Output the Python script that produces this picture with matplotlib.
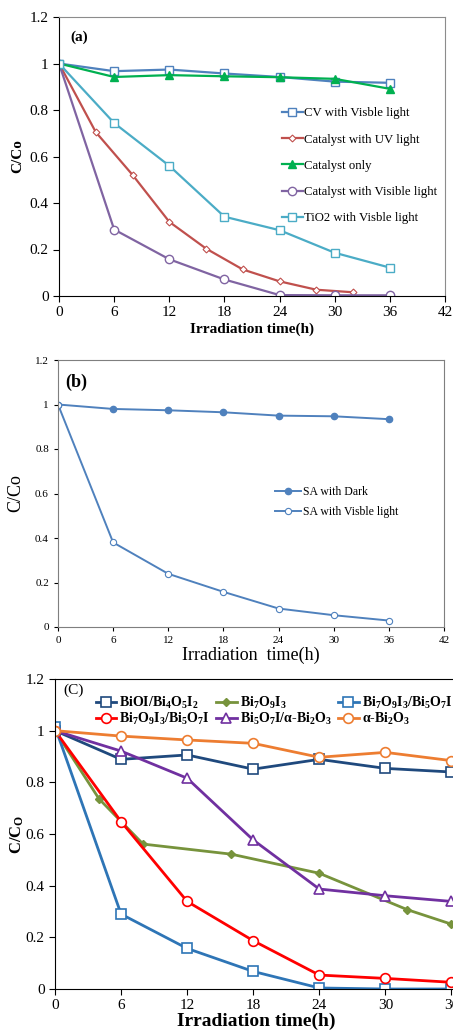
import matplotlib
matplotlib.use("Agg")
import matplotlib.pyplot as plt
from matplotlib.ticker import FuncFormatter

plt.rcParams['font.family'] = ['Liberation Serif', 'DejaVu Serif']
plt.rcParams['mathtext.fontset'] = 'custom'
plt.rcParams['mathtext.rm'] = 'Liberation Serif:bold'
plt.rcParams['mathtext.it'] = 'Liberation Serif:bold'
plt.rcParams['mathtext.bf'] = 'Liberation Serif:bold'

# --- panel (a) data ---
t_a = [0, 6, 12, 18, 24, 30, 36]
t_uv = [0, 4, 8, 12, 16, 20, 24, 28, 32]
cv_vis = [1.0, 0.967, 0.974, 0.957, 0.942, 0.922, 0.917]
cat_uv = [1.0, 0.705, 0.521, 0.319, 0.204, 0.114, 0.063, 0.027, 0.016]
cat_only = [1.0, 0.942, 0.950, 0.945, 0.941, 0.934, 0.891]
cat_vis = [1.0, 0.286, 0.158, 0.071, 0.004, 0.003, 0.003]
tio2_vis = [1.0, 0.744, 0.560, 0.341, 0.283, 0.186, 0.122]

# --- panel (b) data ---
t_b = [0, 6, 12, 18, 24, 30, 36]
sa_dark = [1.0, 0.980, 0.974, 0.965, 0.950, 0.947, 0.934]
sa_vis = [1.0, 0.380, 0.239, 0.158, 0.083, 0.053, 0.029]

# --- panel (c) data ---
t_c = [0, 6, 12, 18, 24, 30, 36]
t_green = [0, 4, 8, 16, 24, 32, 36]
bioi = [1.0, 0.889, 0.906, 0.851, 0.889, 0.854, 0.840]
bi7o9i3 = [1.0, 0.736, 0.561, 0.522, 0.448, 0.307, 0.251]
blue_comp = [1.015, 0.290, 0.157, 0.068, 0.004, 0.0, 0.0]
red_comp = [1.0, 0.648, 0.339, 0.187, 0.054, 0.041, 0.026]
bi5o7i = [1.0, 0.921, 0.816, 0.577, 0.387, 0.361, 0.339]
abi2o3 = [1.0, 0.979, 0.964, 0.951, 0.897, 0.916, 0.884]

W, H = 453, 1031
fig = plt.figure(figsize=(W / 100, H / 100), dpi=100)


def box(l, t, r, b):
    return [l / W, 1 - b / H, (r - l) / W, (b - t) / H]


fmt = FuncFormatter(lambda v, p: '%g' % round(v, 2))

# ===== (a) =====
ax1 = fig.add_axes(box(59, 17, 445, 296))
ax1.plot(t_a, cv_vis, '-s', color='#4F81BD', lw=1.6, ms=6, mfc='white', mew=1.0,
         label='CV with Visble light')
ax1.plot(t_uv, cat_uv, '-D', color='#C0504D', lw=1.6, ms=3.5, mfc='white', mew=0.8,
         label='Catalyst with UV light')
ax1.plot(t_a, cat_only, '-^', color='#00B050', lw=1.6, ms=6,
         label='Catalyst only')
ax1.plot(t_a, cat_vis, '-o', color='#8064A2', lw=1.6, ms=6, mfc='white', mew=1.0,
         label='Catalyst with Visible light')
ax1.plot(t_a, tio2_vis, '-s', color='#4BACC6', lw=1.6, ms=6, mfc='white', mew=1.0,
         label='TiO2 with Visble light')
ax1.set_xlim(0, 42)
ax1.set_ylim(0, 1.2)
ax1.set_xticks(range(0, 43, 6))
ax1.set_yticks([0, 0.2, 0.4, 0.6, 0.8, 1.0, 1.2])
ax1.yaxis.set_major_formatter(fmt)
ax1.tick_params(direction='out', length=4, labelsize=11)
ax1.set_xlabel('Irradiation time(h)', fontsize=11, fontweight='bold', labelpad=2)
ax1.set_ylabel('C/Co', fontsize=11, fontweight='bold', labelpad=4)
ax1.text(0.03, 0.95, '(a)', transform=ax1.transAxes, fontsize=11,
         fontweight='bold', va='top')
for s in ['top', 'right']:
    ax1.spines[s].set_color('#8C8C8C')
ax1.legend(loc='upper left', bbox_to_anchor=(0.565, 0.695), frameon=False,
           fontsize=9.2, labelspacing=1.12, handlelength=1.6, handletextpad=0.1,
           borderaxespad=0)

# ===== (b) =====
ax2 = fig.add_axes(box(58, 360, 444, 627))
ax2.plot(t_b, sa_dark, '-o', color='#4F81BD', lw=1.4, ms=4.5,
         label='SA with Dark')
ax2.plot(t_b, sa_vis, '-o', color='#4F81BD', lw=1.4, ms=4.5, mfc='white', mew=0.8,
         label='SA with Visble light')
ax2.set_xlim(0, 42)
ax2.set_ylim(0, 1.2)
ax2.set_xticks(range(0, 43, 6))
ax2.set_yticks([0, 0.2, 0.4, 0.6, 0.8, 1.0, 1.2])
ax2.yaxis.set_major_formatter(fmt)
ax2.tick_params(direction='out', length=3, labelsize=8)
ax2.set_xlabel('Irradiation  time(h)', fontsize=13, labelpad=1)
ax2.set_ylabel('C/Co', fontsize=13, labelpad=8)
ax2.text(0.02, 0.95, '(b)', transform=ax2.transAxes, fontsize=13,
         fontweight='bold', va='top')
for s in ax2.spines.values():
    s.set_color('#7F7F7F')
ax2.legend(loc='upper left', bbox_to_anchor=(0.55, 0.545), frameon=False,
           fontsize=8.5, labelspacing=0.7, handlelength=2.2, handletextpad=0.2,
           borderaxespad=0)

# ===== (c) =====
ax3 = fig.add_axes(box(55, 679, 458, 989))
l1, = ax3.plot(t_c, bioi, '-s', color='#1F497D', lw=2, ms=7, mfc='white', mew=1.2,
               label=r'BiOI/Bi$_4$O$_5$I$_2$')
l2, = ax3.plot(t_green, bi7o9i3, '-D', color='#77933C', lw=2, ms=4.5,
               label=r'Bi$_7$O$_9$I$_3$')
l3, = ax3.plot(t_c, blue_comp, '-s', color='#2E75B6', lw=2, ms=7, mfc='white', mew=1.2,
               label=r'Bi$_7$O$_9$I$_3$/Bi$_5$O$_7$I')
l4, = ax3.plot(t_c, red_comp, '-o', color='#FF0000', lw=2, ms=7, mfc='white', mew=1.2,
               label=r'Bi$_7$O$_9$I$_3$/Bi$_5$O$_7$I')
l5, = ax3.plot(t_c, bi5o7i, '-^', color='#7030A0', lw=2, ms=7, mfc='white', mew=1.2,
               label=r'Bi$_5$O$_7$I/α-Bi$_2$O$_3$')
l6, = ax3.plot(t_c, abi2o3, '-o', color='#ED7D31', lw=2, ms=7, mfc='white', mew=1.2,
               label=r'α-Bi$_2$O$_3$')
ax3.set_xlim(0, 36.6)
ax3.set_ylim(0, 1.2)
ax3.set_xticks(range(0, 37, 6))
ax3.set_yticks([0, 0.2, 0.4, 0.6, 0.8, 1.0, 1.2])
ax3.yaxis.set_major_formatter(fmt)
ax3.tick_params(direction='out', length=4, labelsize=11)
ax3.set_xlabel('Irradiation time(h)', fontsize=14, fontweight='bold', labelpad=0)
ax3.set_ylabel(r'C/C$_O$', fontsize=12, fontweight='bold', labelpad=0)
ax3.text(0.02, 0.985, '(C)', transform=ax3.transAxes, fontsize=11, va='top')
ax3.legend(handles=[l1, l4, l2, l5, l3, l6], ncol=3, loc='upper left',
           bbox_to_anchor=(0.08, 0.975), frameon=False,
           prop={'size': 10, 'weight': 'bold'}, labelspacing=0.0,
           handlelength=1.5, handletextpad=0.2, columnspacing=0.45,
           borderaxespad=0.2)

fig.savefig('out.png', dpi=100)
